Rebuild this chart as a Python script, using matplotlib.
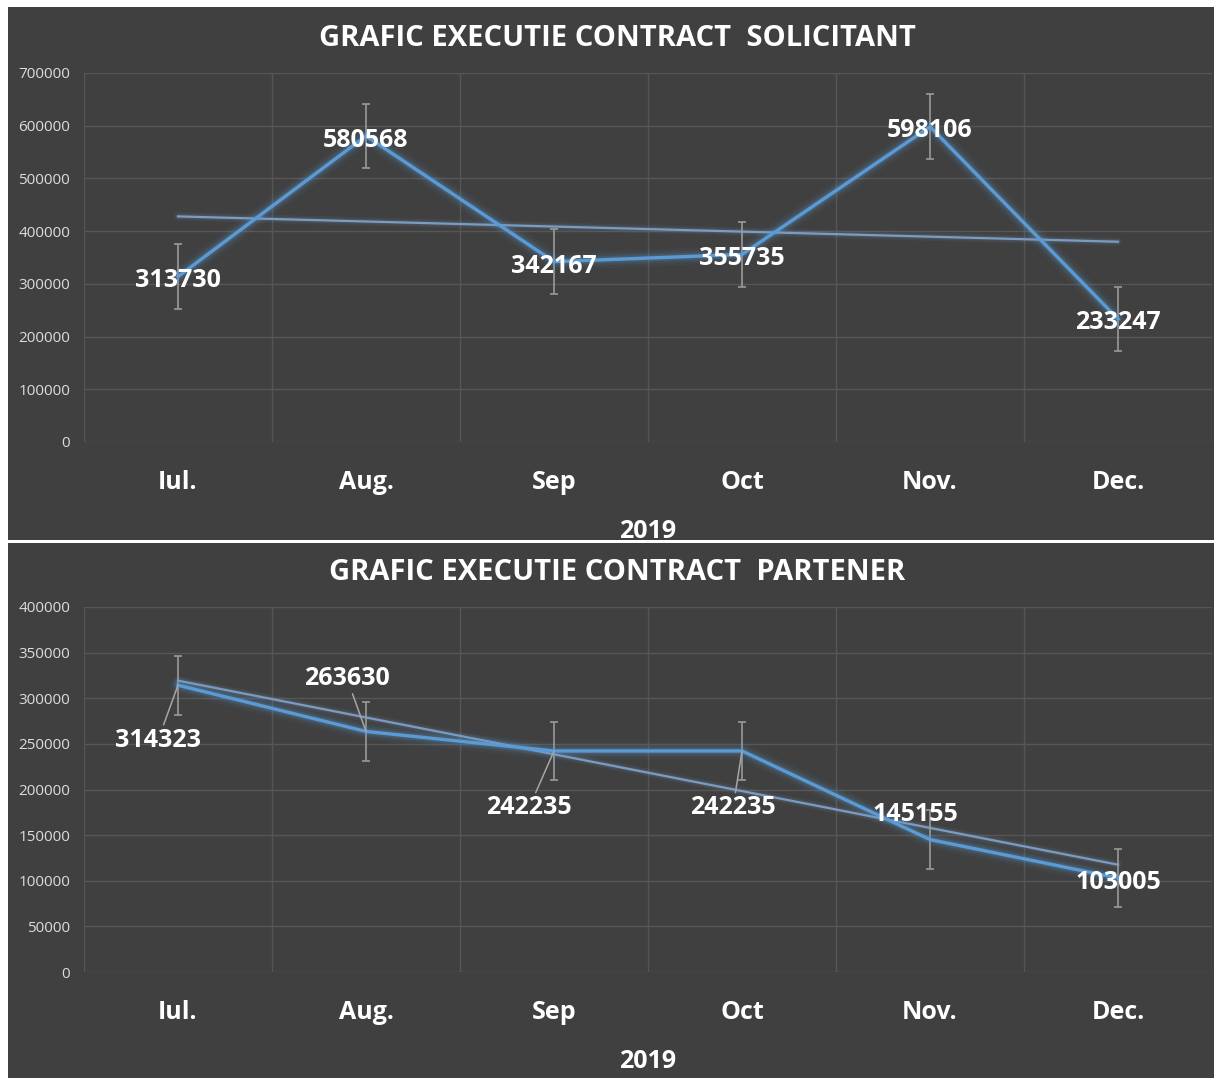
import numpy as np
import matplotlib
matplotlib.use("Agg")
import matplotlib.pyplot as plt
from matplotlib.patches import Rectangle

plt.rcParams['font.family'] = ['Open Sans', 'DejaVu Sans']

months = ["Iul.", "Aug.", "Sep", "Oct", "Nov.", "Dec."]
year_label = "2019"

solicitant_title = "GRAFIC EXECUTIE CONTRACT  SOLICITANT"
solicitant = [313730, 580568, 342167, 355735, 598106, 233247]
solicitant_ticks = [0, 100000, 200000, 300000, 400000, 500000, 600000, 700000]

partener_title = "GRAFIC EXECUTIE CONTRACT  PARTENER"
partener = [314323, 263630, 242235, 242235, 145155, 103005]
partener_ticks = [0, 50000, 100000, 150000, 200000, 250000, 300000, 350000, 400000]

W, H = 1214, 1078
BG = "#404040"
GRID = "#565656"
LINE = "#5b9bd5"
TREND = "#7b9cc2"
ERR = "#9a9a9a"
TICK = "#dcdcdc"

fig = plt.figure(figsize=(W / 100, H / 100), dpi=100)
fig.patch.set_facecolor("white")


def px_rect(x0, y0, x1, y1):
    return [x0 / W, 1 - y1 / H, (x1 - x0) / W, (y1 - y0) / H]


def panel(y0, y1):
    l, b, w, h = px_rect(8, y0, 1214, y1)
    fig.patches.append(Rectangle((l, b), w, h, transform=fig.transFigure,
                                 facecolor=BG, edgecolor="none", zorder=-5))


def draw_chart(ax, values, ticks, title, title_y, year_y, label_offsets, leaders):
    x = np.arange(1, len(values) + 1)
    vals = np.array(values, dtype=float)
    ax.set_facecolor(BG)
    ax.set_xlim(0.5, len(values) + 0.5)
    ax.set_ylim(ticks[0], ticks[-1])
    for s in ax.spines.values():
        s.set_visible(False)
    ax.set_yticks(ticks)
    ax.set_yticklabels([str(t) for t in ticks], color=TICK, fontsize=11)
    ax.tick_params(axis="y", length=0, pad=10)
    ax.set_xticks(x)
    ax.set_xticklabels(months, color="white", fontsize=18, fontweight="bold")
    ax.tick_params(axis="x", length=0, pad=20)
    for t in ticks:
        ax.axhline(t, color=GRID, lw=1, zorder=1)
    for b in np.arange(0.5, len(values) + 1, 1.0):
        ax.axvline(b, color=GRID, lw=1, zorder=1)

    # standard error bars
    se = vals.std(ddof=1) / np.sqrt(len(vals))
    ax.errorbar(x, vals, yerr=se, fmt="none", ecolor=ERR, elinewidth=1.2,
                capsize=3, capthick=1.2, zorder=3)

    # linear trendline
    k, c = np.polyfit(x, vals, 1)
    for lw, a in [(6, 0.08), (3.5, 0.12)]:
        ax.plot(x, k * x + c, color=TREND, lw=lw, alpha=a, zorder=2,
                solid_capstyle="round")
    ax.plot(x, k * x + c, color=TREND, lw=1.6, zorder=2)

    # series line with soft glow
    for lw, a in [(12, 0.06), (8, 0.10), (5, 0.18)]:
        ax.plot(x, vals, color=LINE, lw=lw, alpha=a, zorder=4,
                solid_joinstyle="round", solid_capstyle="round")
    ax.plot(x, vals, color=LINE, lw=2.4, zorder=5, solid_joinstyle="round")

    for i, (xi, v) in enumerate(zip(x, vals)):
        dx, dy = label_offsets[i]
        kw = {}
        if leaders[i]:
            kw["arrowprops"] = dict(arrowstyle="-", color="#a6a6a6", lw=1.1,
                                    shrinkA=0, shrinkB=0)
        ax.annotate(str(int(v)), (xi, v), xytext=(dx, -dy),
                    textcoords="offset pixels", ha="center", va="center",
                    color="white", fontsize=18, fontweight="bold", zorder=6, **kw)

    fig.text(617 / W, 1 - title_y / H, title, ha="center", va="center",
             color="white", fontsize=21, fontweight="bold")
    fig.text(648 / W, 1 - year_y / H, year_label, ha="center", va="center",
             color="white", fontsize=18, fontweight="bold")


panel(7, 540)
panel(543, 1078)

ax1 = fig.add_axes(px_rect(84, 73, 1212, 442))
draw_chart(ax1, solicitant, solicitant_ticks, solicitant_title, 38, 532,
           [(0, 4), (0, 5), (0, 5), (0, 4), (0, 4), (0, 3)],
           [False] * 6)

ax2 = fig.add_axes(px_rect(84, 607, 1212, 972))
draw_chart(ax2, partener, partener_ticks, partener_title, 572, 1061,
           [(-20, 55), (-19, -53), (-25, 57), (-9, 57), (-15, -25), (0, 4)],
           [True, True, True, True, False, False])

fig.savefig("out.png", dpi=100, facecolor=fig.get_facecolor())
